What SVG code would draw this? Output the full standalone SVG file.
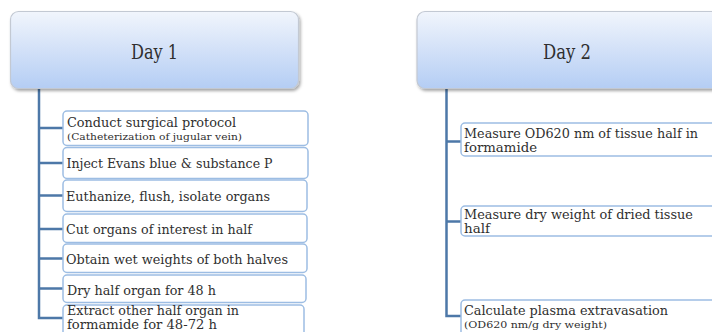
<svg xmlns="http://www.w3.org/2000/svg" width="712" height="332" viewBox="0 0 712 332">
<defs>
<linearGradient id="hg" x1="0" y1="0" x2="0" y2="1">
<stop offset="0" stop-color="#f1f5fc"/>
<stop offset="1" stop-color="#b4cdf4"/>
</linearGradient>
<filter id="sh" x="-5%" y="-10%" width="115%" height="130%">
<feDropShadow dx="1.5" dy="2" stdDeviation="1.5" flood-color="#000" flood-opacity="0.35"/>
</filter>
</defs>
<style>
.hdr{fill:url(#hg);stroke:#c3c9d3;stroke-width:1.2;filter:url(#sh)}
.box{fill:#fff;stroke:#9dbde3;stroke-width:1.5}
.conn{fill:none;stroke:#4d78a8;stroke-width:2.5}
text{font-family:"DejaVu Serif","Liberation Serif",serif;fill:#2f2f2f}
.h{font-size:20px;text-anchor:middle}
.t{font-size:13px}
.s{font-size:10px}
</style>
<rect width="712" height="332" fill="#fff"/>
<g id="connectors">
<path class="conn" d="M39,88 V318 H63 M39,128 H63 M39,163 H63 M39,195.5 H63 M39,229 H63 M39,258.5 H63 M39,288.5 H63"/>
<path class="conn" d="M446.5,88 V316 H461 M446.5,141.5 H461 M446.5,221.5 H461"/>
</g>
<g id="day1">
<rect class="hdr" x="10.5" y="11.5" width="288" height="77" rx="8"/>
<text class="h" x="154.5" y="58.5" textLength="47" lengthAdjust="spacingAndGlyphs">Day 1</text>
</g>
<g id="day2">
<rect class="hdr" x="417" y="11.5" width="310" height="77" rx="8"/>
<text class="h" x="567" y="58.5" textLength="48" lengthAdjust="spacingAndGlyphs">Day 2</text>
</g>
<g id="d1s1">
<rect class="box" x="63" y="111" width="245" height="34.5" rx="4"/>
<text class="t" x="67" y="126.5" textLength="169" lengthAdjust="spacingAndGlyphs">Conduct surgical protocol</text>
<text class="s" x="67" y="139.5" textLength="175" lengthAdjust="spacingAndGlyphs">(Catheterization of jugular vein)</text>
</g>
<g id="d1s2">
<rect class="box" x="63" y="147.5" width="245" height="31" rx="4"/>
<text class="t" x="66.5" y="167.5" textLength="206" lengthAdjust="spacingAndGlyphs">Inject Evans blue &amp; substance P</text>
</g>
<g id="d1s3">
<rect class="box" x="63" y="180" width="244" height="31.5" rx="4"/>
<text class="t" x="66" y="200.5" textLength="204" lengthAdjust="spacingAndGlyphs">Euthanize, flush, isolate organs</text>
</g>
<g id="d1s4">
<rect class="box" x="63" y="214" width="244" height="28.5" rx="4"/>
<text class="t" x="66" y="234" textLength="186" lengthAdjust="spacingAndGlyphs">Cut organs of interest in half</text>
</g>
<g id="d1s5">
<rect class="box" x="63" y="244" width="244" height="28.5" rx="4"/>
<text class="t" x="66" y="263.5" textLength="222" lengthAdjust="spacingAndGlyphs">Obtain wet weights of both halves</text>
</g>
<g id="d1s6">
<rect class="box" x="63" y="275" width="243" height="27.5" rx="4"/>
<text class="t" x="67" y="294.5" textLength="149" lengthAdjust="spacingAndGlyphs">Dry half organ for 48 h</text>
</g>
<g id="d1s7">
<rect class="box" x="63" y="305" width="241" height="40" rx="4"/>
<text class="t" x="67" y="315" textLength="172" lengthAdjust="spacingAndGlyphs">Extract other half organ in</text>
<text class="t" x="67" y="329" textLength="150" lengthAdjust="spacingAndGlyphs">formamide for 48-72 h</text>
</g>
<g id="d2s1">
<rect class="box" x="461" y="123" width="262" height="33" rx="4"/>
<text class="t" x="464" y="138" textLength="234" lengthAdjust="spacingAndGlyphs">Measure OD620 nm of tissue half in</text>
<text class="t" x="464" y="151.5" textLength="73" lengthAdjust="spacingAndGlyphs">formamide</text>
</g>
<g id="d2s2">
<rect class="box" x="461" y="206" width="262" height="30" rx="4"/>
<text class="t" x="464" y="218.5" textLength="229" lengthAdjust="spacingAndGlyphs">Measure dry weight of dried tissue</text>
<text class="t" x="464" y="233" textLength="26" lengthAdjust="spacingAndGlyphs">half</text>
</g>
<g id="d2s3">
<rect class="box" x="461" y="300" width="262" height="45" rx="4"/>
<text class="t" x="464" y="315" textLength="204" lengthAdjust="spacingAndGlyphs">Calculate plasma extravasation</text>
<text class="s" x="464" y="327.5" textLength="143" lengthAdjust="spacingAndGlyphs">(OD620 nm/g dry weight)</text>
</g>
</svg>
